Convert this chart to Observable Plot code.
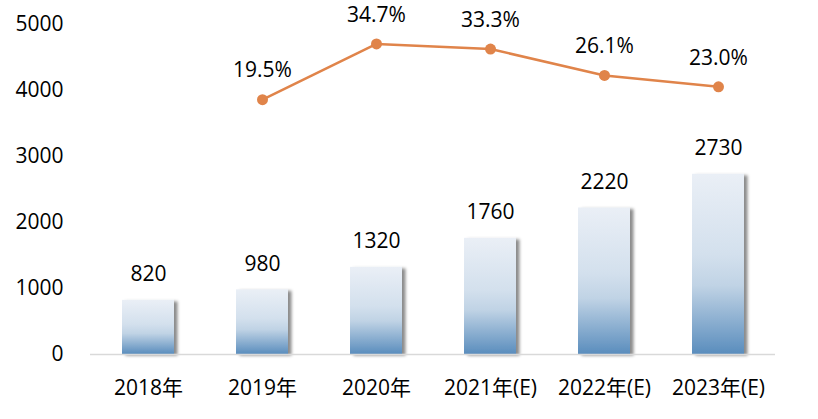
<!DOCTYPE html>
<html>
<head>
<meta charset="utf-8">
<script src="https://cdn.jsdelivr.net/npm/d3@7"></script>
<script src="https://cdn.jsdelivr.net/npm/@observablehq/plot@0.6"></script>
<style>
  html, body { margin: 0; padding: 0; background: #fff; }
  #chart { width: 818px; height: 419px; }
  #chart svg { overflow: visible; }
</style>
</head>
<body>
<div id="chart"></div>
<script>
const years = ["2018年", "2019年", "2020年", "2021年(E)", "2022年(E)", "2023年(E)"];
const values = [820, 980, 1320, 1760, 2220, 2730];
const growthYears = ["2019年", "2020年", "2021年(E)", "2022年(E)", "2023年(E)"];
const growth = [19.5, 34.7, 33.3, 26.1, 23.0];
const yTicks = [0, 1000, 2000, 3000, 4000, 5000];

// hidden secondary axis (percent) mapped onto the primary value axis
const secondary = d3.scaleLinear().domain([-50, 40]).range([0, 5000]);

const bars = years.map((y, i) => ({year: y, value: values[i]}));
const line = growthYears.map((y, i) => ({year: y, pct: growth[i], v: secondary(growth[i])}));

const font = "'Open Sans', 'Noto Sans CJK SC', sans-serif";
const fs = 21;

const plot = Plot.plot({
  width: 818,
  height: 419,
  marginLeft: 90,
  marginRight: 43,
  marginTop: 24,
  marginBottom: 65,
  style: {fontFamily: font, fontSize: fs + "px", color: "#000", background: "#fff"},
  x: {domain: years, paddingInner: 0.545, paddingOuter: 0.2725, label: null},
  y: {domain: [0, 5000], label: null},
  marks: [
    Plot.barY(bars, {x: "year", y: "value", fill: "url(#barGrad)"}),
    Plot.ruleY([0], {stroke: "#d9d9d9", strokeWidth: 1.3}),
    Plot.axisY({ticks: yTicks, tickSize: 0, tickPadding: 27, tickFormat: d => String(d), fontSize: fs, label: null}),
    Plot.axisX({tickSize: 0, tickPadding: 26, fontSize: fs, label: null}),
    Plot.text(bars, {x: "year", y: "value", text: d => String(d.value), dy: -26, fontSize: fs, fill: "#000"}),
    Plot.line(line, {x: "year", y: "v", stroke: "#e0844a", strokeWidth: 2.5}),
    Plot.dot(line, {x: "year", y: "v", r: 5.5, fill: "#e0844a", stroke: "none"}),
    Plot.text(line, {x: "year", y: "v", text: d => d.pct.toFixed(1) + "%", dy: -29, fontSize: fs, fill: "#000"})
  ]
});

// gradient + shadow definitions
const ns = "http://www.w3.org/2000/svg";
const svg = plot.tagName.toLowerCase() === "svg" ? plot : plot.querySelector("svg");
const defs = document.createElementNS(ns, "defs");
defs.innerHTML = `
  <linearGradient id="barGrad" x1="0" y1="0" x2="0" y2="1">
    <stop offset="0" stop-color="#eaeff6"/>
    <stop offset="0.45" stop-color="#d3e0ed"/>
    <stop offset="0.62" stop-color="#c0d3e5"/>
    <stop offset="1" stop-color="#5a8dbd"/>
  </linearGradient>
  <filter id="barShadow" x="-20%" y="-10%" width="150%" height="130%">
    <feDropShadow dx="3.5" dy="1.5" stdDeviation="1.6" flood-color="#000" flood-opacity="0.45"/>
  </filter>`;
svg.insertBefore(defs, svg.firstChild);
svg.querySelectorAll("g[aria-label='bar'] rect").forEach(r => r.setAttribute("filter", "url(#barShadow)"));
document.getElementById("chart").appendChild(plot);
</script>
</body>
</html>
